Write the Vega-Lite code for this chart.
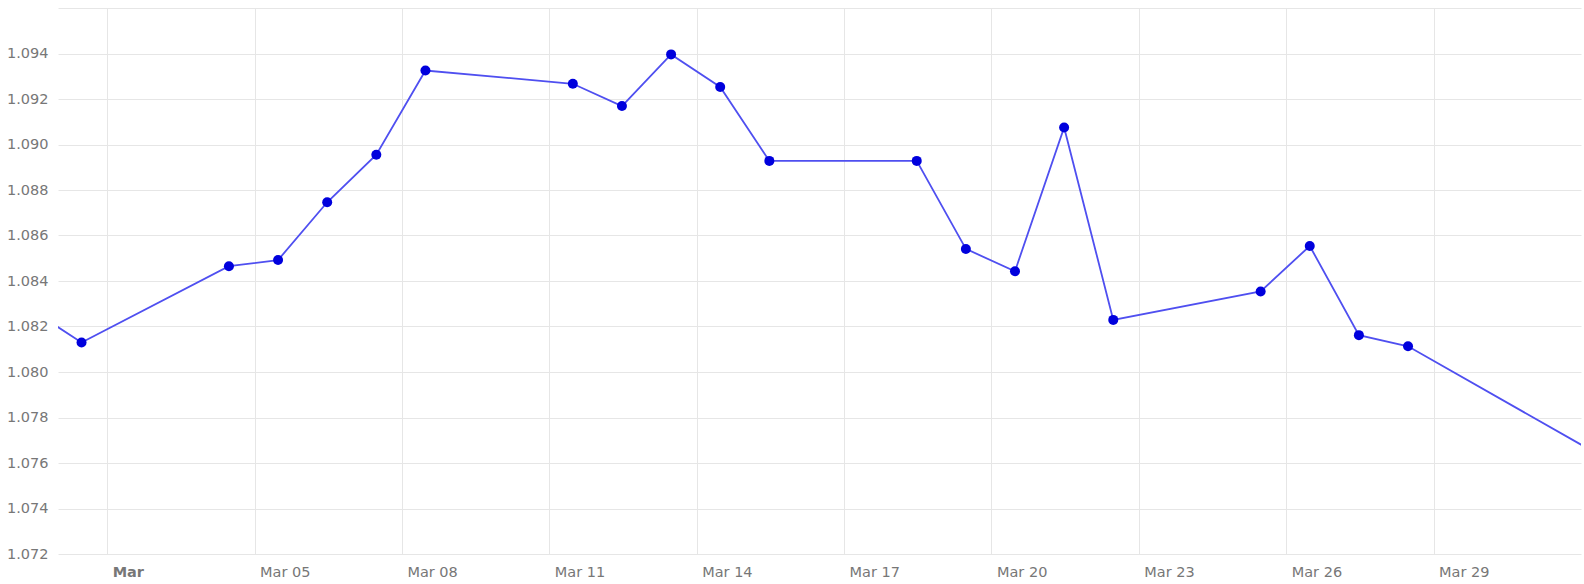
{
  "$schema": "https://vega.github.io/schema/vega-lite/v6.json",
  "autosize": {"type": "none"},
  "padding": {"left": 58, "top": 8, "right": 3, "bottom": 30},
  "width": 1523,
  "height": 546,
  "background": "white",
  "config": {
    "view": {"stroke": null},
    "font": "DejaVu Sans",
    "axis": {"gridColor": "#e6e6e6", "gridWidth": 1, "domain": false, "ticks": false, "tickSize": 0, "labelColor": "#777777", "labelFontSize": 14.5, "labelFont": "DejaVu Sans", "title": null}
  },
  "data": {
    "values": [
      {"date": "2024-02-29T11:30:00", "rate": 1.0827},
      {"date": "2024-03-01T11:30:00", "rate": 1.0813},
      {"date": "2024-03-04T11:30:00", "rate": 1.08465},
      {"date": "2024-03-05T11:30:00", "rate": 1.08492},
      {"date": "2024-03-06T11:30:00", "rate": 1.08746},
      {"date": "2024-03-07T11:30:00", "rate": 1.08955},
      {"date": "2024-03-08T11:30:00", "rate": 1.09325},
      {"date": "2024-03-11T11:30:00", "rate": 1.09267},
      {"date": "2024-03-12T11:30:00", "rate": 1.09169},
      {"date": "2024-03-13T11:30:00", "rate": 1.09396},
      {"date": "2024-03-14T11:30:00", "rate": 1.09253},
      {"date": "2024-03-15T11:30:00", "rate": 1.08928},
      {"date": "2024-03-18T11:30:00", "rate": 1.08928},
      {"date": "2024-03-19T11:30:00", "rate": 1.08541},
      {"date": "2024-03-20T11:30:00", "rate": 1.08443},
      {"date": "2024-03-21T11:30:00", "rate": 1.09075},
      {"date": "2024-03-22T11:30:00", "rate": 1.08229},
      {"date": "2024-03-25T11:30:00", "rate": 1.08354},
      {"date": "2024-03-26T11:30:00", "rate": 1.08554},
      {"date": "2024-03-27T11:30:00", "rate": 1.08162},
      {"date": "2024-03-28T11:30:00", "rate": 1.08113},
      {"date": "2024-04-01T11:30:00", "rate": 1.07622}
    ]
  },
  "encoding": {
    "x": {
      "field": "date",
      "type": "temporal",
      "scale": {"domain": ["2024-03-01T00:00:00", "2024-04-01T00:00:00"]},
      "axis": {
        "values": [
          {"year": 2024, "month": 3, "date": 2},
          {"year": 2024, "month": 3, "date": 5},
          {"year": 2024, "month": 3, "date": 8},
          {"year": 2024, "month": 3, "date": 11},
          {"year": 2024, "month": 3, "date": 14},
          {"year": 2024, "month": 3, "date": 17},
          {"year": 2024, "month": 3, "date": 20},
          {"year": 2024, "month": 3, "date": 23},
          {"year": 2024, "month": 3, "date": 26},
          {"year": 2024, "month": 3, "date": 29}
        ],
        "labelExpr": "date(datum.value) == 2 ? 'Mar' : timeFormat(datum.value, '%b %d')",
        "labelFontWeight": {"condition": {"test": "date(datum.value) == 2", "value": "bold"}, "value": "normal"},
        "labelAlign": "left",
        "labelOffset": 5,
        "labelPadding": 11,
        "labelFlush": false,
        "labelOverlap": false
      }
    },
    "y": {
      "field": "rate",
      "type": "quantitative",
      "scale": {"domain": [1.072, 1.096], "zero": false, "nice": false},
      "axis": {
        "values": [1.072, 1.074, 1.076, 1.078, 1.08, 1.082, 1.084, 1.086, 1.088, 1.09, 1.092, 1.094, 1.096],
        "labelExpr": "datum.value > 1.0955 ? '' : format(datum.value, '.3f')",
        "labelPadding": 10,
        "labelOverlap": false
      }
    }
  },
  "layer": [
    {"mark": {"type": "line", "color": "#4f4ff0", "strokeWidth": 1.8, "clip": true}},
    {"mark": {"type": "point", "filled": true, "color": "#0000dd", "opacity": 1, "size": 100, "clip": true}}
  ]
}
